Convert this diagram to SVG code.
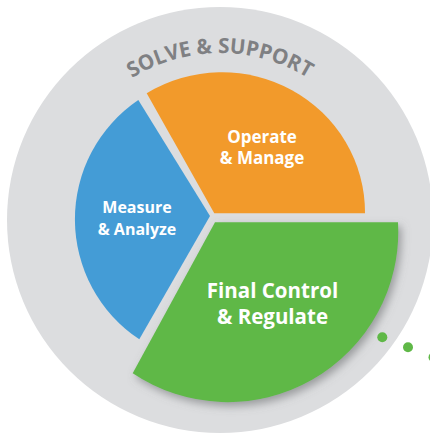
<svg xmlns="http://www.w3.org/2000/svg" width="430" height="434" viewBox="0 0 430 434">
  <defs>
    <filter id="shadow" x="-20%" y="-20%" width="150%" height="150%">
      <feDropShadow dx="3" dy="4" stdDeviation="4" flood-color="#6d6e71" flood-opacity="0.6"/>
    </filter>
    <path id="arcText" d="M75.4,136.5 A167,167 0 0,1 364.6,136.5"/>
  </defs>
  <style>
    .lbl { font-family: "Open Sans", "Liberation Sans", sans-serif; font-weight: 700; fill: #ffffff; text-anchor: middle; }
    .ring { font-family: "Open Sans", "Liberation Sans", sans-serif; font-weight: 700; fill: #7f8083; }
    .dot { fill: #5fb847; }
  </style>
  <rect width="430" height="434" fill="#ffffff"/>
  <g id="ring">
    <circle cx="220" cy="220" r="213" fill="#dcdddf"/>
    <text class="ring" font-size="21"><textPath href="#arcText" startOffset="50%" text-anchor="middle" textLength="185" lengthAdjust="spacingAndGlyphs">SOLVE &amp; SUPPORT</textPath></text>
  </g>
  <g id="measure">
    <path d="M210,216 L138.3,100 A144,144 0 0,0 139.3,339.3 Z" fill="#449cd6"/>
    <text class="lbl" font-size="16" x="137" y="213">Measure</text>
    <text class="lbl" font-size="16" x="137" y="235">&amp; Analyze</text>
  </g>
  <g id="operate">
    <path d="M214.3,213.3 L146.7,93.3 A143,140 0 0,1 365,213.3 Z" fill="#f29a2b"/>
    <text class="lbl" font-size="17" x="262" y="143">Operate</text>
    <text class="lbl" font-size="17" x="262" y="164">&amp; Manage</text>
  </g>
  <g id="final">
    <path d="M215,222.3 L398,222.3 A170.6,170.6 0 0,1 132.7,373.3 Z" fill="#5fb847" filter="url(#shadow)"/>
    <text class="lbl" font-size="20.5" x="272.5" y="298">Final Control</text>
    <text class="lbl" font-size="20.5" x="272.5" y="324">&amp; Regulate</text>
  </g>
  <g id="dots">
    <circle class="dot" cx="382.3" cy="337.3" r="5"/>
    <circle class="dot" cx="408" cy="347.3" r="5"/>
    <circle class="dot" cx="433.5" cy="357.3" r="5"/>
  </g>
</svg>
